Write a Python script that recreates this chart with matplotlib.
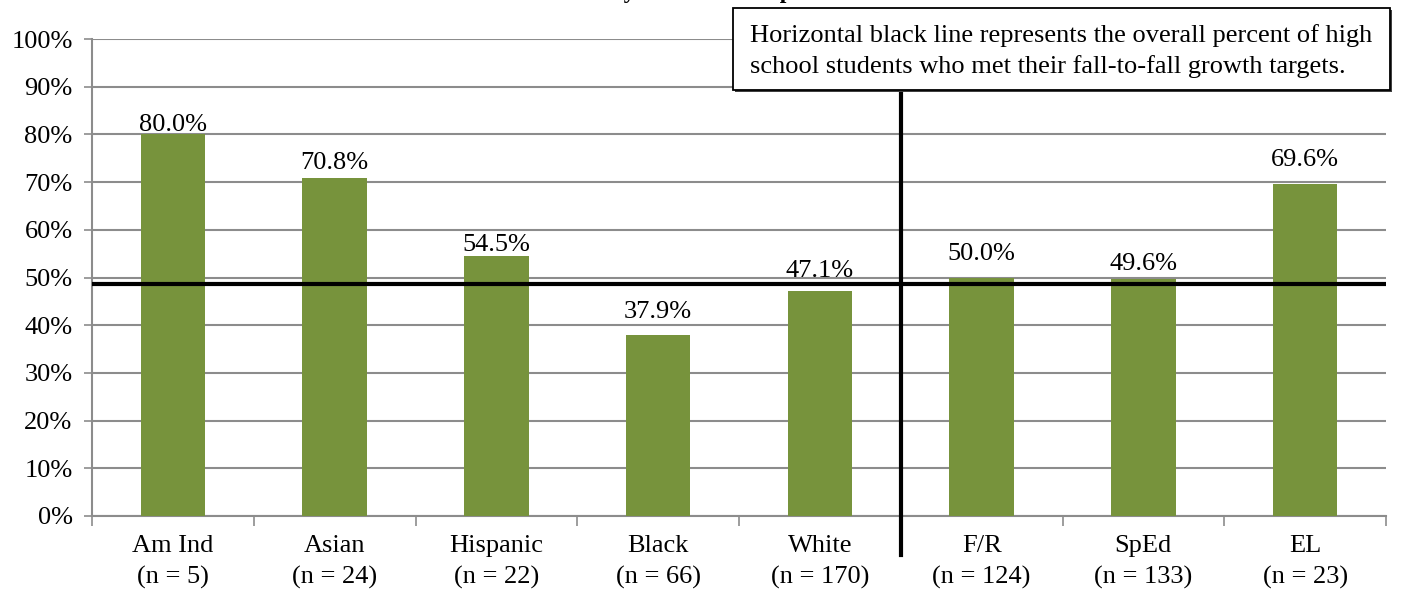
import matplotlib.pyplot as plt
import numpy as np

plt.rcParams['font.family'] = ['Liberation Serif', 'DejaVu Serif']

groups = ["Am Ind", "Asian", "Hispanic", "Black", "White", "F/R", "SpEd", "EL"]
counts = [5, 24, 22, 66, 170, 124, 133, 23]
pct_met = [80.0, 70.8, 54.5, 37.9, 47.1, 50.0, 49.6, 69.6]
overall_pct = 48.6

# labels were nudged by hand in the original, so keep their lift per bar
label_lift = [0.8, 1.9, 1.1, 3.6, 3.1, 3.6, 2.0, 3.7]

bar_color = '#77933C'
grid_color = '#8c8c8c'
fs = 19

fig = plt.figure(figsize=(14.17, 5.91), dpi=100)
ax = fig.add_axes([92 / 1417, 75 / 591, 1294 / 1417, 477 / 591])

x = np.arange(len(groups))
ax.bar(x, pct_met, width=0.4, color=bar_color, zorder=3)
for xi, v, lift in zip(x, pct_met, label_lift):
    ax.text(xi, v + lift, f'{v:.1f}%', ha='center', va='baseline', fontsize=fs, zorder=4)

ax.set_xlim(-0.5, len(groups) - 0.5)
ax.set_ylim(0, 100)
ax.set_yticks(np.arange(0, 101, 10))
ax.set_yticklabels([f'{t}%' for t in range(0, 101, 10)], fontsize=fs)
ax.yaxis.grid(True, color=grid_color, linewidth=1.5, zorder=0)

# category boundaries as major ticks, labels on minor ticks
ax.set_xticks(np.arange(-0.5, len(groups), 1.0))
ax.set_xticklabels([])
ax.set_xticks(x, minor=True)
ax.set_xticklabels([f'{g}\n(n = {n})' for g, n in zip(groups, counts)], minor=True,
                   fontsize=fs, linespacing=1.5)
ax.tick_params(axis='x', which='major', length=7, color=grid_color, width=1.2)
ax.tick_params(axis='x', which='minor', length=0, pad=14)
ax.tick_params(axis='y', length=6, color=grid_color, width=1.2, pad=8)

for side in ['top', 'right']:
    ax.spines[side].set_visible(False)
for side in ['left', 'bottom']:
    ax.spines[side].set_color(grid_color)
    ax.spines[side].set_linewidth(1.5)

# overall reference line and divider
ax.axhline(overall_pct, color='black', linewidth=3, zorder=5)
ax.plot([4.5, 4.5], [-8.2, 90], color='black', linewidth=3, clip_on=False, zorder=5)

# note box with a small drop shadow
shadow = plt.Rectangle((735 / 1417, 1 - 92 / 591), 657 / 1417, 82 / 591,
                       transform=fig.transFigure, facecolor='#404040', edgecolor='none',
                       zorder=9)
box = plt.Rectangle((733 / 1417, 1 - 90 / 591), 657 / 1417, 82 / 591,
                    transform=fig.transFigure, facecolor='white', edgecolor='black',
                    linewidth=1.3, zorder=10)
fig.patches.extend([shadow, box])
fig.text(750 / 1417, 1 - 51 / 591,
         'Horizontal black line represents the overall percent of high\n'
         'school students who met their fall-to-fall growth targets.',
         ha='left', va='center', fontsize=fs, linespacing=1.45, zorder=11)

# title mostly cut off at top edge
fig.text(0.423, 1 + 2 / 591, 'Fall-to-Fall Growth by Student Group',
         ha='center', va='baseline', fontsize=17, fontweight='bold')

fig.savefig('out.png', dpi=100)
